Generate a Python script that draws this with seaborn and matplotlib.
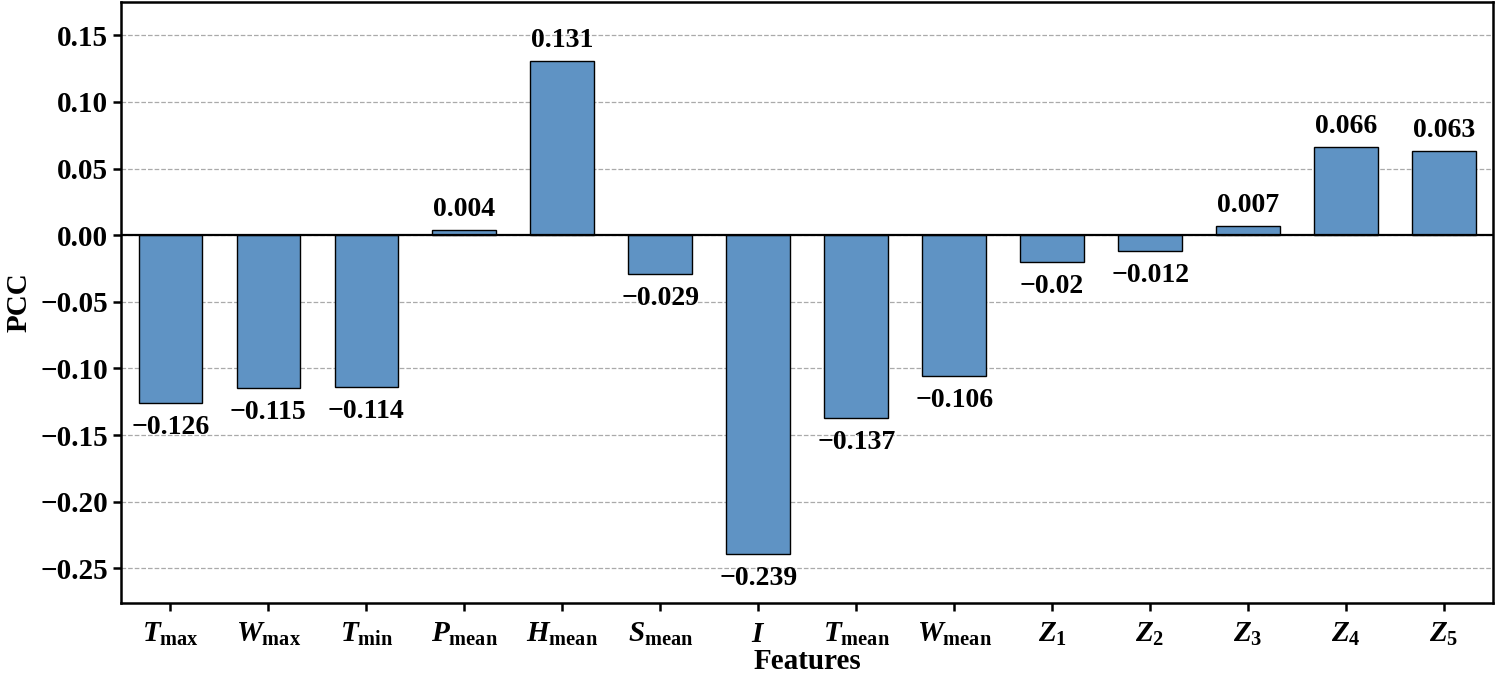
import pandas as pd
import matplotlib
matplotlib.use("Agg")
import matplotlib.pyplot as plt
import seaborn as sns

# --------------------------
# PCC per feature
# --------------------------
features = ["Tmax", "Wmax", "Tmin", "Pmean", "Hmean", "Smean", "I",
            "Tmean", "Wmean", "Z1", "Z2", "Z3", "Z4", "Z5"]
pcc = [-0.126, -0.115, -0.114, 0.004, 0.131, -0.029, -0.239,
       -0.137, -0.106, -0.02, -0.012, 0.007, 0.066, 0.063]
tick_labels = [r"$T_{\rm max}$", r"$W_{\rm max}$", r"$T_{\rm min}$", r"$P_{\rm mean}$",
               r"$H_{\rm mean}$", r"$S_{\rm mean}$", r"$I$", r"$T_{\rm mean}$",
               r"$W_{\rm mean}$", r"$Z_{\rm 1}$", r"$Z_{\rm 2}$", r"$Z_{\rm 3}$",
               r"$Z_{\rm 4}$", r"$Z_{\rm 5}$"]
value_labels = ["\u22120.126", "\u22120.115", "\u22120.114", "0.004", "0.131", "\u22120.029",
                "\u22120.239", "\u22120.137", "\u22120.106", "\u22120.02", "\u22120.012",
                "0.007", "0.066", "0.063"]

df = pd.DataFrame({"Feature": features, "PCC": pcc})

sns.set_style("white")
plt.rcParams["font.family"] = ["Liberation Serif", "DejaVu Serif"]
plt.rcParams["font.weight"] = "bold"
plt.rcParams["text.color"] = "black"
plt.rcParams["axes.labelcolor"] = "black"
plt.rcParams["xtick.color"] = "black"
plt.rcParams["ytick.color"] = "black"
plt.rcParams["mathtext.fontset"] = "custom"
plt.rcParams["mathtext.it"] = "Liberation Serif:italic:bold"
plt.rcParams["mathtext.rm"] = "Liberation Serif:bold"
plt.rcParams["axes.unicode_minus"] = True

fig, ax = plt.subplots(figsize=(14.99, 6.79), dpi=100)
sns.barplot(data=df, x="Feature", y="PCC", color="#5f93c4", width=0.65,
            edgecolor="black", linewidth=1.0, saturation=1, ax=ax, zorder=3)

ax.set_xlim(-0.5, 13.5)
ax.set_ylim(-0.276, 0.175)
ax.set_yticks([-0.25, -0.20, -0.15, -0.10, -0.05, 0.00, 0.05, 0.10, 0.15])
ax.set_yticklabels(["\u22120.25", "\u22120.20", "\u22120.15", "\u22120.10", "\u22120.05",
                    "0.00", "0.05", "0.10", "0.15"], fontsize=21, fontweight="bold")
ax.set_xticks(range(len(features)))
ax.set_xticklabels(tick_labels, fontsize=21)

ax.yaxis.grid(True, linestyle="--", color="#aaaaaa", linewidth=0.9, zorder=0)
ax.axhline(0, color="black", linewidth=1.6, zorder=4)

for i, (v, lab) in enumerate(zip(pcc, value_labels)):
    if v >= 0:
        ax.text(i, v + 0.006, lab, ha="center", va="bottom", fontsize=20, fontweight="bold")
    else:
        ax.text(i, v - 0.009, lab, ha="center", va="top", fontsize=20, fontweight="bold")

ax.set_xlabel("Features", fontsize=21, fontweight="bold", labelpad=0)
ax.set_ylabel("PCC", fontsize=21, fontweight="bold", labelpad=6)

for s in ax.spines.values():
    s.set_linewidth(1.8)
    s.set_color("black")
ax.tick_params(axis="both", direction="out", length=6, width=1.8, left=True, bottom=True)
ax.tick_params(axis="x", pad=7)

plt.subplots_adjust(left=0.081, right=0.996, top=0.997, bottom=0.112)
plt.savefig("out.png", dpi=100)
